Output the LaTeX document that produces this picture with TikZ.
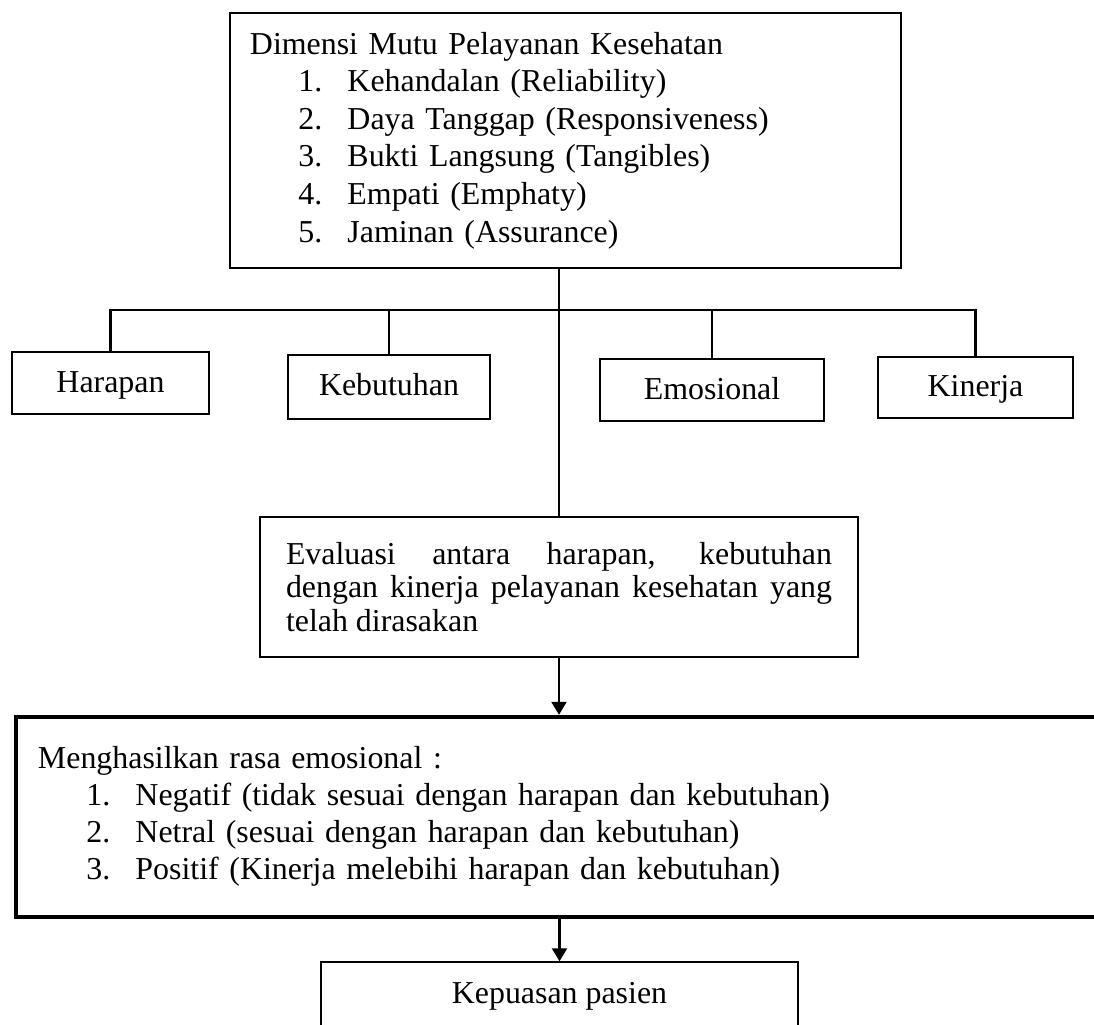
\documentclass[tikz,border=0pt]{standalone}
\usepackage{fontspec}
\setmainfont{Liberation Serif}
\usetikzlibrary{arrows.meta}
\newcommand{\butir}[2]{\hspace*{0.97cm}\makebox[0.98cm][l]{#1}#2}

\begin{document}
\begin{tikzpicture}[
  x=0.2mm, y=-0.2mm,
  box/.style={
    draw,
    line width=0.8pt,
    align=center,
    inner sep=0pt,
    text height=0.5cm,
    text depth=0.14cm,
    font=\fontsize{18.15}{21.4}\selectfont
  },
  listbox/.style={
    draw,
    line width=0.8pt,
    align=left,
    inner ysep=0pt,
    font=\fontsize{18.15}{21.4}\selectfont
  },
  link/.style={line width=1.2pt},
  flow/.style={-{Triangle[length=0.26cm, width=0.3cm]}, line width=1.2pt}
]
\useasboundingbox (0,0) rectangle (1094,1025);
\clip (0,0) rectangle (1094,1025);

\node[listbox, minimum width=13.42cm, minimum height=5.1cm, inner xsep=0.4cm, text width=12.62cm] (dimensi) at (565.5,140.5)
  {Dimensi Mutu Pelayanan Kesehatan\\
   \butir{1.}{Kehandalan (Reliability)}\\
   \butir{2.}{Daya Tanggap (Responsiveness)}\\
   \butir{3.}{Bukti Langsung (Tangibles)}\\
   \butir{4.}{Empati (Emphaty)}\\
   \butir{5.}{Jaminan (Assurance)}};

\node[box, minimum width=3.94cm, minimum height=1.24cm] (harapan) at (110.5,383) {Harapan};
\node[box, minimum width=4.04cm, minimum height=1.28cm] (kebutuhan) at (389,387) {Kebutuhan};
\node[box, minimum width=4.48cm, minimum height=1.24cm] (emosional) at (712,390) {Emosional};
\node[box, minimum width=3.9cm, minimum height=1.22cm] (kinerja) at (975.5,387.5) {Kinerja};

\node[listbox, align=justify, minimum height=2.8cm, inner xsep=0.52cm, text width=10.92cm,
  font=\fontsize{18.15}{19.1}\selectfont] (evaluasi) at (559,587)
  {Evaluasi antara harapan, kebutuhan\linebreak
   dengan kinerja pelayanan kesehatan yang\linebreak
   telah dirasakan};

\node[listbox, line width=2.5pt, minimum height=4cm, inner xsep=0.44cm, text width=21cm,
  font=\fontsize{18.15}{21.2}\selectfont] (hasil) at (563,817)
  {Menghasilkan rasa emosional :\\
   \butir{1.}{Negatif (tidak sesuai dengan harapan dan kebutuhan)}\\
   \butir{2.}{Netral (sesuai dengan harapan dan kebutuhan)}\\
   \butir{3.}{Positif (Kinerja melebihi harapan dan kebutuhan)}\rule[-0.16cm]{0pt}{0pt}};

\node[box, minimum width=9.54cm, minimum height=1.3cm] (kepuasan) at (559.5,994.5) {Kepuasan pasien};

\coordinate (bar) at (559,310);
\draw[link] (dimensi.south -| evaluasi.north) -- (evaluasi.north);
\draw[link] (bar) -| (harapan.north);
\draw[link] (bar) -| (kebutuhan.north);
\draw[link] (bar) -| (emosional.north);
\draw[link] (bar) -| (kinerja.north);
\draw[flow] (evaluasi.south) -- (evaluasi.south |- hasil.north);
\draw[flow] (kepuasan.north |- hasil.south) -- (kepuasan.north);
\end{tikzpicture}
\end{document}
